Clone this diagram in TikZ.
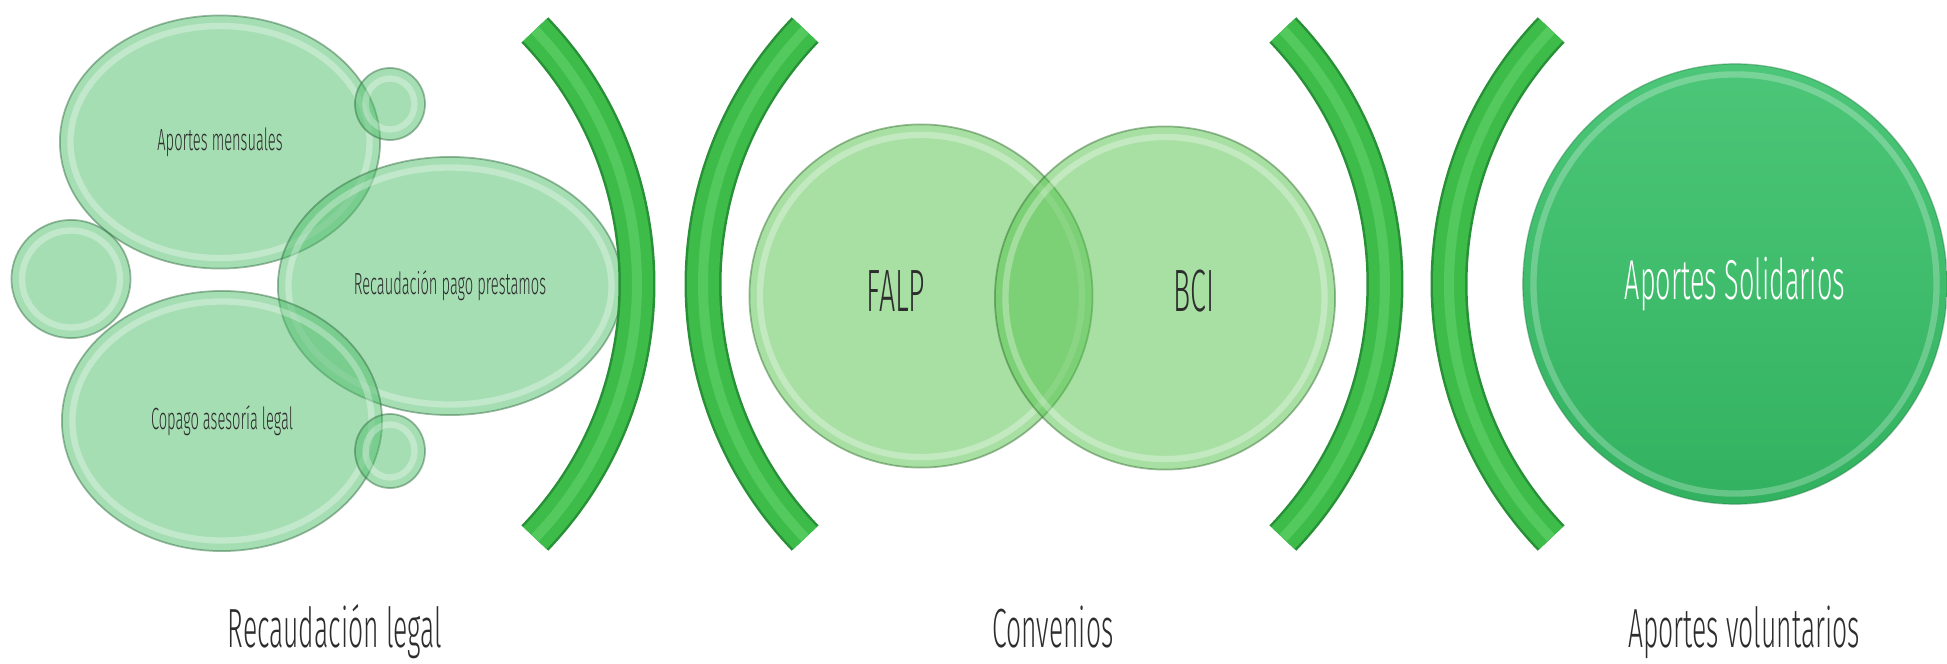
\documentclass[tikz,border=0pt]{standalone}
\usepackage{fontspec}
\setmainfont{Fira Sans Light}[FakeStretch=0.48]
\usetikzlibrary{shapes.geometric,calc}

\definecolor{bubblemint}{RGB}{77,189,105}
\definecolor{bubblelime}{RGB}{81,193,73}
\definecolor{solidtop}{RGB}{76,198,120}
\definecolor{solidbot}{RGB}{50,178,96}
\definecolor{brdark}{RGB}{40,145,55}
\definecolor{brmain}{RGB}{62,188,74}
\definecolor{brlight}{RGB}{84,202,94}
\definecolor{txtgray}{RGB}{45,45,45}

\tikzset{
  rimline/.style={draw=white,draw opacity=0.3,line width=1.8pt},
  bubble/.style={ellipse,inner sep=0pt,fill=bubblemint,fill opacity=0.5,
    text opacity=1,draw=bubblemint!55!black,draw opacity=0.45,line width=0.5pt,
    text=txtgray,font=\fontsize{8.7}{10}\selectfont,
    path picture={\draw[rimline]
      let \p1=(path picture bounding box.north east),\p2=(path picture bounding box.center) in
      (\p2) ellipse [x radius=\x1-\x2-3pt,y radius=\y1-\y2-3pt];}},
  lensbubble/.style={bubble,fill=bubblelime,draw=bubblelime!55!black},
  bigtext/.style={text=txtgray,font=\fontsize{17}{20}\selectfont},
  caption/.style={text=txtgray,font=\fontsize{15.7}{19}\selectfont,anchor=base},
  bracket/.style={draw=brmain,line width=3.2mm,
    preaction={draw=brdark,line width=3.7mm},
    postaction={draw=brlight,line width=1mm}}
}

\begin{document}
\begin{tikzpicture}[x=0.01cm,y=0.01cm]
\useasboundingbox (0,0) rectangle (1947,663);

% Recaudacion legal
\node[bubble,minimum width=3.2cm,minimum height=2.53cm] (am) at (220,521) {Aportes mensuales};
\node[bubble,minimum width=3.44cm,minimum height=2.58cm] (rp) at (450,377) {Recaudación pago prestamos};
\node[bubble,minimum width=3.2cm,minimum height=2.6cm] (cl) at (222,242) {Copago asesoría legal};
\node[bubble,minimum width=0.7cm,minimum height=0.72cm] (st) at (390,559) {};
\node[bubble,minimum width=1.19cm,minimum height=1.18cm] (sl) at (71,384) {};
\node[bubble,minimum width=0.7cm,minimum height=0.74cm] (sb) at (390,212) {};

% brackets
\coordinate (b1c) at (270,379);
\coordinate (b2c) at (1070,379);
\coordinate (b3c) at (1018,379);
\coordinate (b4c) at (1816,379);
\draw[bracket] ([shift={(-43.8:367)}]b1c) arc[start angle=-43.8,end angle=43.8,radius=367];
\draw[bracket] ([shift={(136.2:367)}]b2c) arc[start angle=136.2,end angle=223.8,radius=367];
\draw[bracket] ([shift={(-43.8:367)}]b3c) arc[start angle=-43.8,end angle=43.8,radius=367];
\draw[bracket] ([shift={(136.2:367)}]b4c) arc[start angle=136.2,end angle=223.8,radius=367];

% Convenios
\node[lensbubble,minimum width=3.43cm,minimum height=3.43cm] (falp) at (921,367) {};
\node[lensbubble,minimum width=3.4cm,minimum height=3.43cm] (bci) at (1165,365) {};
\node[bigtext] (falptxt) at (896,372) {FALP};
\node[bigtext] (bcitxt) at (1194,372) {BCI};

% Aportes voluntarios
\node[ellipse,inner sep=0pt,minimum width=4.24cm,minimum height=4.4cm,
  top color=solidtop,bottom color=solidbot,draw=solidbot!70!black,draw opacity=0.4,
  bigtext,font=\fontsize{16}{19}\selectfont,text=white,
  path picture={\draw[rimline,draw opacity=0.25]
    let \p1=(path picture bounding box.north east),\p2=(path picture bounding box.center) in
    (\p2) ellipse [x radius=\x1-\x2-3pt,y radius=\y1-\y2-3pt];}] (as) at (1735,379) {Aportes Solidarios};

\node[caption] (rl) at (335,15) {Recaudación legal};
\node[caption] (cv) at (1053,15) {Convenios};
\node[caption] (av) at (1744,15) {Aportes voluntarios};
\end{tikzpicture}
\end{document}
